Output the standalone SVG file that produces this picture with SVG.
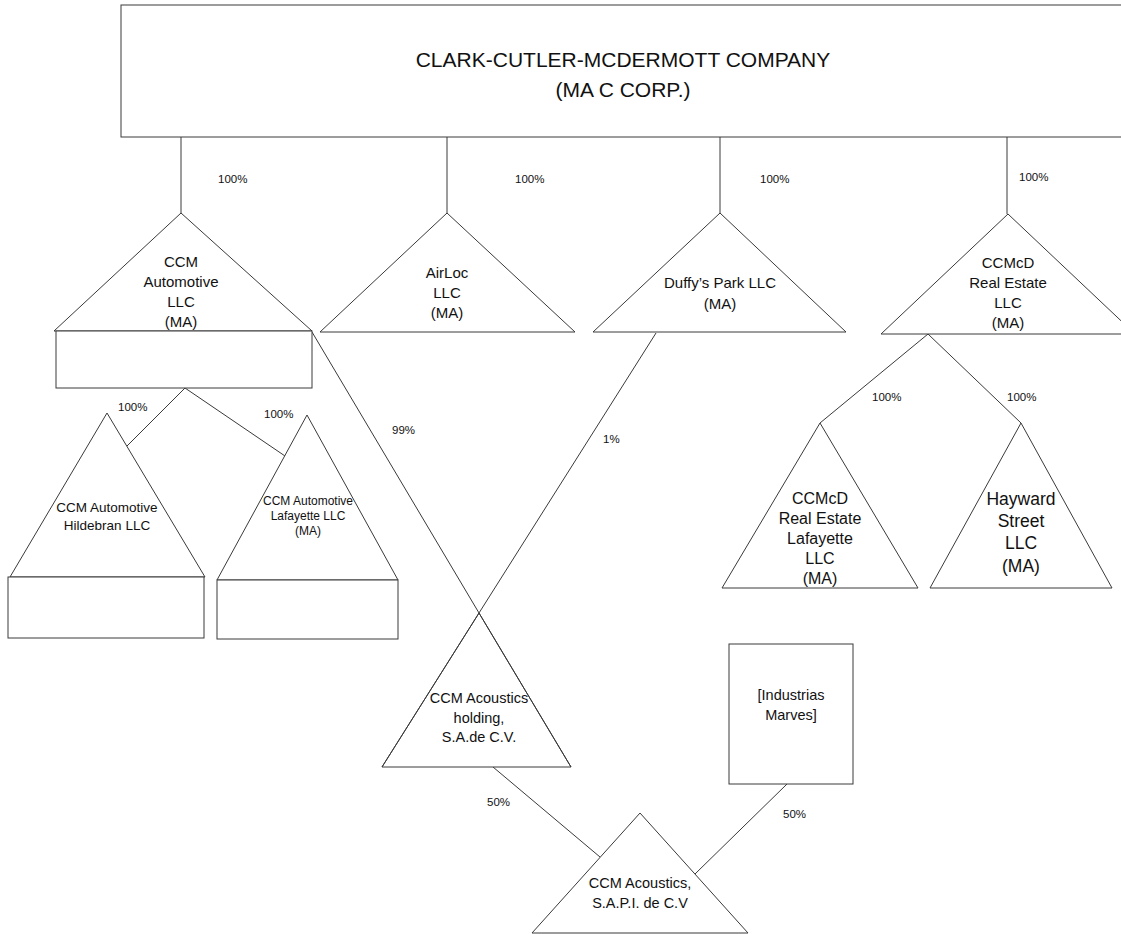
<svg xmlns="http://www.w3.org/2000/svg" width="1121" height="934" viewBox="0 0 1121 934">
<style>
.s{fill:#fff;stroke:#3a3a3a;stroke-width:1}
.c{fill:none;stroke:#3a3a3a;stroke-width:1}
text{font-family:"Liberation Sans",Arial,sans-serif;fill:#111;text-anchor:middle}
.t15{font-size:15px}
.t14{font-size:14.5px}
.t16{font-size:16px}
.t17{font-size:17.5px}
.pct{font-size:11.5px;text-anchor:start}
</style>
<rect width="1121" height="934" fill="#fff"/>
<g id="connectors">
<line class="c" x1="181" y1="137" x2="181" y2="213"/>
<line class="c" x1="447" y1="137" x2="447" y2="213"/>
<line class="c" x1="720" y1="137" x2="720" y2="213"/>
<line class="c" x1="1007" y1="137" x2="1007" y2="214"/>
<line class="c" x1="185" y1="388" x2="127" y2="446"/>
<line class="c" x1="185" y1="388" x2="285" y2="456"/>
<line class="c" x1="312" y1="332" x2="479" y2="613"/>
<line class="c" x1="656" y1="333" x2="479" y2="613"/>
<line class="c" x1="928" y1="334" x2="820" y2="423"/>
<line class="c" x1="928" y1="334" x2="1021" y2="423"/>
<line class="c" x1="493" y1="767" x2="600" y2="857"/>
<line class="c" x1="787" y1="784" x2="695" y2="874"/>
<text class="pct" x="218" y="183">100%</text>
<text class="pct" x="515" y="183">100%</text>
<text class="pct" x="760" y="183">100%</text>
<text class="pct" x="1019" y="181">100%</text>
<text class="pct" x="118" y="411">100%</text>
<text class="pct" x="264" y="418">100%</text>
<text class="pct" x="392" y="434">99%</text>
<text class="pct" x="603" y="443">1%</text>
<text class="pct" x="872" y="401">100%</text>
<text class="pct" x="1007" y="401">100%</text>
<text class="pct" x="487" y="806">50%</text>
<text class="pct" x="783" y="818">50%</text>
</g>
<g id="ccm-company">
<rect class="s" x="121" y="5" width="1010" height="132"/>
<text x="623" y="67" font-size="21">CLARK-CUTLER-MCDERMOTT COMPANY</text>
<text x="623" y="97" font-size="21">(MA C CORP.)</text>
</g>
<g id="ccm-automotive">
<polygon class="s" points="181,213 54,331 312,331"/>
<rect class="s" x="56" y="331" width="256" height="57"/>
<text class="t15" x="181" y="267">CCM</text>
<text class="t15" x="181" y="287">Automotive</text>
<text class="t15" x="181" y="307">LLC</text>
<text class="t15" x="181" y="327">(MA)</text>
</g>
<g id="airloc">
<polygon class="s" points="447,213 320,332 575,332"/>
<text class="t15" x="447" y="278">AirLoc</text>
<text class="t15" x="447" y="298">LLC</text>
<text class="t15" x="447" y="318">(MA)</text>
</g>
<g id="duffys-park">
<polygon class="s" points="720,213 593,332 846,332"/>
<text class="t15" x="720" y="288">Duffy’s Park LLC</text>
<text class="t15" x="720" y="309">(MA)</text>
</g>
<g id="ccmcd-real-estate">
<polygon class="s" points="1008,214 881,334 1135,334"/>
<text class="t15" x="1008" y="268">CCMcD</text>
<text class="t15" x="1008" y="288">Real Estate</text>
<text class="t15" x="1008" y="308">LLC</text>
<text class="t15" x="1008" y="328">(MA)</text>
</g>
<g id="ccm-automotive-hildebran">
<polygon class="s" points="107,413 10,577 205,577"/>
<rect class="s" x="8" y="577" width="196" height="61"/>
<text x="107" y="512" font-size="13.5">CCM Automotive</text>
<text x="107" y="530" font-size="13.5">Hildebran LLC</text>
</g>
<g id="ccm-automotive-lafayette">
<polygon class="s" points="307,415 217,580 398,580"/>
<rect class="s" x="217" y="580" width="181" height="59"/>
<text x="308" y="505" font-size="12">CCM Automotive</text>
<text x="308" y="520" font-size="12">Lafayette LLC</text>
<text x="308" y="535" font-size="12">(MA)</text>
</g>
<g id="ccmcd-real-estate-lafayette">
<polygon class="s" points="820,423 722,588 918,588"/>
<text class="t16" x="820" y="504">CCMcD</text>
<text class="t16" x="820" y="524">Real Estate</text>
<text class="t16" x="820" y="544">Lafayette</text>
<text class="t16" x="820" y="564">LLC</text>
<text class="t16" x="820" y="584">(MA)</text>
</g>
<g id="hayward-street">
<polygon class="s" points="1021,423 930,588 1112,588"/>
<text class="t17" x="1021" y="505">Hayward</text>
<text class="t17" x="1021" y="527">Street</text>
<text class="t17" x="1021" y="549">LLC</text>
<text class="t17" x="1021" y="572">(MA)</text>
</g>
<g id="ccm-acoustics-holding">
<polygon class="s" points="479,613 382,767 571,767"/>
<line class="c" x1="479" y1="613" x2="571" y2="767"/>
<line class="c" x1="479" y1="613" x2="382" y2="767"/>
<text class="t14" x="479" y="703">CCM Acoustics</text>
<text class="t14" x="479" y="723">holding,</text>
<text class="t14" x="479" y="742">S.A.de C.V.</text>
</g>
<g id="industrias-marves">
<rect class="s" x="729" y="644" width="124" height="140"/>
<text class="t14" x="791" y="700">[Industrias</text>
<text class="t14" x="791" y="720">Marves]</text>
</g>
<g id="ccm-acoustics-sapi">
<polygon class="s" points="640,813 532,933 748,933"/>
<text class="t14" x="640" y="888">CCM Acoustics,</text>
<text class="t14" x="640" y="908">S.A.P.I. de C.V</text>
</g>
</svg>
